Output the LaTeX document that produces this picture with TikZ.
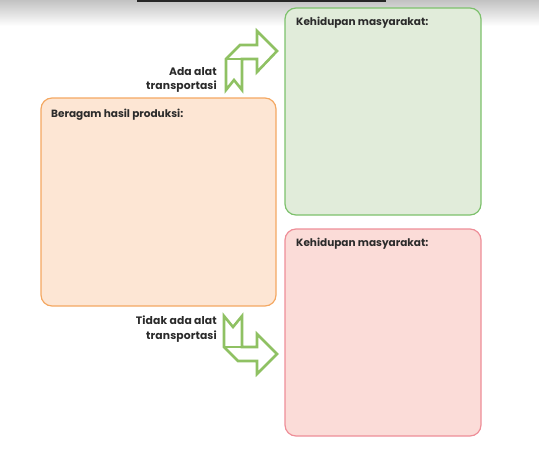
\documentclass[tikz,border=0pt]{standalone}
\usepackage{fontspec}
\setmainfont{Poppins}
\definecolor{orfill}{HTML}{FDE6D4}
\definecolor{ordraw}{HTML}{F4A862}
\definecolor{grfill}{HTML}{E1ECDA}
\definecolor{grdraw}{HTML}{7DC16C}
\definecolor{rdfill}{HTML}{FBDCD8}
\definecolor{rddraw}{HTML}{EE8E98}
\definecolor{arrowgreen}{HTML}{8FC163}
\definecolor{txt}{HTML}{2B2B2B}
\begin{document}
\begin{tikzpicture}[x=1pt,y=-1pt,
  box/.style={draw, line width=1.2pt, rounded corners=11pt, anchor=north west, inner sep=0pt, outer sep=0pt},
  title/.style={anchor=base west, inner sep=0pt, text=txt, font=\bfseries\fontsize{10.5}{12}\selectfont},
  lbl/.style={anchor=north east, inner sep=0pt, align=right, text=txt, font=\bfseries\fontsize{10.8}{14.5}\selectfont\addfontfeatures{LetterSpace=1}},
  bentarrow/.style={draw=arrowgreen, line width=2.6pt, line join=miter}]
\useasboundingbox (0,0) rectangle (539,450);
\shade[top color=black!24, bottom color=white] (0,0) rectangle (539,26);
\fill[black!85] (137,0) rectangle (386,1.5);

\node[box, fill=orfill, draw=ordraw, minimum width=235pt, minimum height=208pt] (prod) at (41,98) {};
\node[box, fill=grfill, draw=grdraw, minimum width=196pt, minimum height=207pt] (up) at (285,8) {};
\node[box, fill=rdfill, draw=rddraw, minimum width=196pt, minimum height=207pt] (down) at (285,229) {};

\node[title] (prodT) at (51,117) {Beragam hasil produksi:};
\node[title] (upT) at (296,25) {Kehidupan masyarakat:};
\node[title] (downT) at (296,246) {Kehidupan masyarakat:};

\node[lbl] (lblA) at (217,67) {Ada alat\\transportasi};
\node[lbl] (lblB) at (217,316) {Tidak ada alat\\transportasi};

% upper bent arrow
\draw[bentarrow] (226,90) -- (234,80) -- (242,90) -- (242,59) -- (257,59) -- (257,72) -- (277,51) -- (257,31) -- (257,45) -- (240,45) -- (226,59) -- cycle;
\draw[bentarrow] (226,59) -- (242,59);
% lower bent arrow
\draw[bentarrow] (224,316) -- (233,327) -- (242,316) -- (242,347) -- (257,347) -- (257,334) -- (277,354) -- (257,374) -- (257,361) -- (238,361) -- (224,347) -- cycle;
\draw[bentarrow] (224,347) -- (242,347);
\end{tikzpicture}
\end{document}
